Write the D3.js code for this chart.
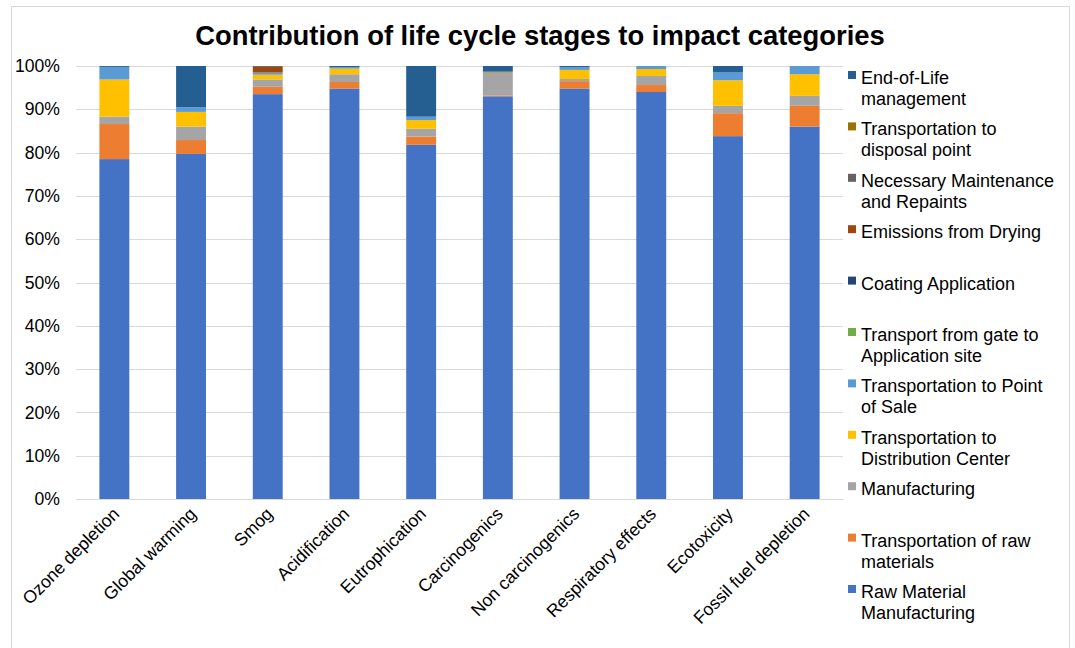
<!DOCTYPE html>
<html>
<head>
<meta charset="utf-8">
<script src="https://cdn.jsdelivr.net/npm/d3@7"></script>
<style>
  body { margin: 0; background: #fff; }
  svg { font-family: 'Liberation Sans', Arial, sans-serif; }
</style>
</head>
<body>
<div class="chart"></div>
<script>
var categories = ['Ozone depletion', 'Global warming', 'Smog', 'Acidification', 'Eutrophication',
  'Carcinogenics', 'Non carcinogenics', 'Respiratory effects', 'Ecotoxicity', 'Fossil fuel depletion']

// stack order, bottom to top
var stages = ['Raw Material Manufacturing', 'Transportation of raw materials', 'Manufacturing',
  'Transportation to Distribution Center', 'Transportation to Point of Sale',
  'Transport from gate to Application site', 'Coating Application', 'Emissions from Drying',
  'Necessary Maintenance and Repaints', 'Transportation to disposal point', 'End-of-Life management']
var colors = ['#4472C4', '#ED7D31', '#A5A5A5', '#FFC000', '#5B9BD5', '#70AD47',
  '#264478', '#9E480E', '#636363', '#997300', '#255E91']

// percent values per stage, one entry per category
var rawMaterial   = [78.5, 79.7, 93.5, 94.8, 81.8, 93.0, 94.8, 94.0, 83.8, 86.0]
var transportRaw  = [8.1, 3.2, 1.7, 1.5, 1.9, 0.2, 1.7, 1.6, 5.3, 4.8]
var manufacturing = [1.7, 3.1, 1.7, 1.8, 1.8, 5.3, 0.5, 2.1, 1.7, 2.3]
var distCenter    = [8.6, 3.4, 1.1, 1.3, 2.0, 0, 2.1, 1.6, 5.9, 5.0]
var pointOfSale   = [2.9, 1.1, 0.5, 0.3, 0.8, 0, 0.6, 0.7, 1.8, 1.9]
var gateToSite    = [0, 0, 0, 0, 0, 0, 0, 0, 0, 0]
var coating       = [0, 0, 0, 0, 0, 0, 0, 0, 0, 0]
var drying        = [0, 0, 1.3, 0, 0, 0, 0, 0, 0, 0]
var maintenance   = [0, 0, 0.2, 0, 0, 0, 0, 0, 0, 0]
var disposal      = [0, 0, 0, 0, 0, 0.2, 0, 0, 0, 0]
var endOfLife     = [0.2, 9.5, 0, 0.3, 11.7, 1.3, 0.3, 0, 1.5, 0]
var yTicks = [0, 10, 20, 30, 40, 50, 60, 70, 80, 90, 100]

var series = [rawMaterial, transportRaw, manufacturing, distCenter, pointOfSale, gateToSite,
  coating, drying, maintenance, disposal, endOfLife]

var table = categories.map(function(c, i) {
  var row = {category: c}
  stages.forEach(function(s, j) { row[s] = series[j][i] })
  return row
})

var W = 1075, H = 648
var margin = {top: 66, right: 232, bottom: 149, left: 76}
var width = W - margin.left - margin.right
var height = H - margin.top - margin.bottom

var svg = d3.select('.chart').append('svg')
  .attr('width', W).attr('height', H)

// chart border
svg.append('rect')
  .attr('x', 11.5).attr('y', 6.5)
  .attr('width', 1058).attr('height', 660)
  .attr('fill', 'none').attr('stroke', '#d9d9d9')

svg.append('text')
  .attr('x', 540).attr('y', 45)
  .attr('text-anchor', 'middle')
  .style('font-size', '27.4px').style('font-weight', 'bold')
  .text('Contribution of life cycle stages to impact categories')

var g = svg.append('g').attr('transform', 'translate(' + margin.left + ',' + margin.top + ')')

var x = d3.scaleBand().domain(categories).range([0, width]).paddingInner(0.61).paddingOuter(0.305)
var y = d3.scaleLinear().domain([0, 100]).range([height, 0])

// gridlines
g.selectAll('.grid').data(yTicks).enter().append('line')
  .attr('x1', 0).attr('x2', width)
  .attr('y1', function(d) { return Math.round(y(d)) + 0.5 })
  .attr('y2', function(d) { return Math.round(y(d)) + 0.5 })
  .attr('stroke', '#d9d9d9')

var yAxis = g.append('g')
  .call(d3.axisLeft(y).tickValues(yTicks).tickSize(0).tickPadding(16)
    .tickFormat(function(d) { return d + '%' }))
yAxis.select('.domain').remove()
yAxis.selectAll('text').style('font-size', '17.6px').attr('fill', '#000')

var stack = d3.stack().keys(stages)(table)

g.selectAll('.layer').data(stack).enter().append('g')
  .attr('fill', function(d, i) { return colors[i] })
  .selectAll('rect').data(function(d) { return d }).enter().append('rect')
  .attr('x', function(d) { return x(d.data.category) })
  .attr('width', x.bandwidth())
  .attr('y', function(d) { return y(d[1]) })
  .attr('height', function(d) { return y(d[0]) - y(d[1]) })

var xAxis = g.append('g')
  .attr('transform', 'translate(0,' + height + ')')
  .call(d3.axisBottom(x).tickSize(0).tickPadding(0))
xAxis.select('.domain').attr('stroke', '#d9d9d9')
xAxis.selectAll('text')
  .style('font-size', '17.6px').attr('fill', '#000')
  .attr('text-anchor', 'end')
  .attr('dy', 0)
  .attr('transform', 'translate(6,16) rotate(-45)')

// legend, top to bottom in reverse stack order
var legendItems = stages.map(function(s, i) { return {name: s, color: colors[i]} }).reverse()
var legendLines = {
  'End-of-Life management': ['End-of-Life', 'management'],
  'Transportation to disposal point': ['Transportation to', 'disposal point'],
  'Necessary Maintenance and Repaints': ['Necessary Maintenance', 'and Repaints'],
  'Emissions from Drying': ['Emissions from Drying'],
  'Coating Application': ['Coating Application'],
  'Transport from gate to Application site': ['Transport from gate to', 'Application site'],
  'Transportation to Point of Sale': ['Transportation to Point', 'of Sale'],
  'Transportation to Distribution Center': ['Transportation to', 'Distribution Center'],
  'Manufacturing': ['Manufacturing'],
  'Transportation of raw materials': ['Transportation of raw', 'materials'],
  'Raw Material Manufacturing': ['Raw Material', 'Manufacturing']
}
var legend = svg.append('g').attr('transform', 'translate(848,78)')
var item = legend.selectAll('.item').data(legendItems).enter().append('g')
  .attr('transform', function(d, i) { return 'translate(0,' + (i * 51.4) + ')' })
item.append('rect')
  .attr('x', 0).attr('y', -7).attr('width', 8).attr('height', 8)
  .attr('fill', function(d) { return d.color })
item.selectAll('text').data(function(d) { return legendLines[d.name] }).enter().append('text')
  .attr('x', 13).attr('y', function(d, i) { return 6 + i * 21 })
  .style('font-size', '18px')
  .text(function(d) { return d })
</script>
</body>
</html>
